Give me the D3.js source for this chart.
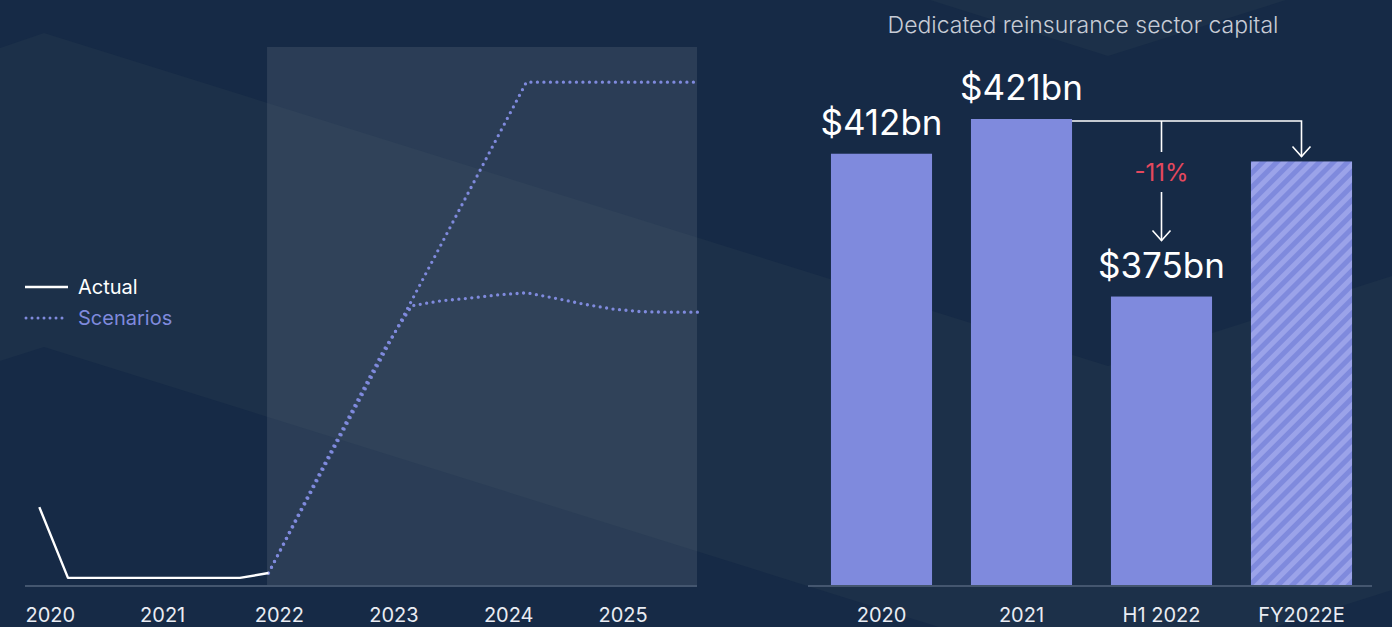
<!DOCTYPE html>
<html>
<head>
<meta charset="utf-8">
<script src="https://cdn.jsdelivr.net/npm/d3@7"></script>
<style>
  html, body { margin: 0; padding: 0; background: #162a46; overflow: hidden; }
  svg { display: block; font-family: Inter, "Open Sans", sans-serif; }
</style>
</head>
<body>
<div id="chart"></div>
<script>
// left panel: quarterly index, actual vs scenarios
var years = [2020, 2021, 2022, 2023, 2024, 2025];
var quarters = ["2020 Q1", "2020 Q2", "2020 Q3", "2020 Q4",
                "2021 Q1", "2021 Q2", "2021 Q3", "2021 Q4",
                "2022 Q1", "2022 Q2", "2022 Q3", "2022 Q4",
                "2023 Q1", "2023 Q2", "2023 Q3", "2023 Q4",
                "2024 Q1", "2024 Q2", "2024 Q3", "2024 Q4",
                "2025 Q1", "2025 Q2", "2025 Q3", "2025 Q4"];
var actual = [14.6, 1.5, 1.5, 1.5, 1.5, 1.5, 1.5, 1.5, 2.4];
var scenarioHigh = [null, null, null, null, null, null, null, null,
                    2.4, 12.5, 22.6, 32.7, 42.8, 52.9, 63.0, 73.1,
                    83.2, 93.3, 93.3, 93.3, 93.3, 93.3, 93.3, 93.3];
var scenarioLow = [null, null, null, null, null, null, null, null,
                   2.4, 12.8, 23.1, 33.3, 43.5, 51.9, 52.8, 53.3,
                   53.9, 54.3, 53.3, 52.2, 51.3, 50.8, 50.7, 50.7];
var projectionStart = "2022 Q1";

// right panel: dedicated reinsurance capital ($bn)
var barLabels = ["2020", "2021", "H1 2022", "FY2022E"];
var capital = [412, 421, 375, 410];
var isEstimate = [false, false, false, true];

var W = 1392, H = 627;
var barColor = "#7f8add";

var svg = d3.select("#chart")
  .append("svg")
    .attr("width", W)
    .attr("height", H);

// background chevron shapes
svg.append("rect").attr("width", W).attr("height", H).attr("fill", "#162a46");
svg.append("polygon")
  .attr("points", "0,48 44,33 1108,366 1392,276 1392,590 1108,680 44,347 0,361")
  .attr("fill", "#1c3049");
svg.append("polygon")
  .attr("points", "930,0 1108,56 1286,0")
  .attr("fill", "#1c3049");

// hatch for the estimate bar
var defs = svg.append("defs");
var pat = defs.append("pattern")
  .attr("id", "hatch")
  .attr("patternUnits", "userSpaceOnUse")
  .attr("width", 10)
  .attr("height", 10)
  .attr("patternTransform", "rotate(45)");
pat.append("rect").attr("width", 10).attr("height", 10).attr("fill", barColor);
pat.append("rect").attr("width", 5).attr("height", 10).attr("fill", "#9ba3e9");

// ---------- left chart ----------
var xYear = d3.scaleLinear()
  .domain([2020, 2026])
  .range([25, 25 + 6 * 114.6]);

function qx(q) {
  var yr = +q.slice(0, 4), qn = +q.slice(-1);
  return xYear(yr + (qn - 1) * 0.25 + 0.125);
}

var yIdx = d3.scaleLinear()
  .domain([0, 100])
  .range([586, 46]);

// shaded projection period
svg.append("rect")
  .attr("x", qx(projectionStart) - 1.5)
  .attr("y", 47)
  .attr("width", 697 - qx(projectionStart) + 1.5)
  .attr("height", 586 - 47)
  .attr("fill", "#ffffff")
  .attr("fill-opacity", 0.09);

svg.append("line")
  .attr("x1", 25).attr("x2", 697)
  .attr("y1", 586).attr("y2", 586)
  .attr("stroke", "#44566f")
  .attr("stroke-width", 2);

var xAxis = svg.append("g")
  .attr("transform", "translate(0,586)")
  .call(d3.axisBottom(xYear).tickValues(years).tickFormat(d3.format("d")).tickSize(0));
xAxis.select(".domain").remove();
xAxis.selectAll("text")
  .attr("y", 36)
  .attr("dy", null)
  .attr("text-anchor", "start")
  .attr("fill", "#e9ecf3")
  .style("font-size", "20px")
  .style("font-family", "Inter, sans-serif");

var line = d3.line()
  .defined(function(d) { return d.v != null; })
  .x(function(d) { return qx(d.q); })
  .y(function(d) { return yIdx(d.v); });

function series(vals) {
  return quarters.map(function(q, i) { return {q: q, v: vals[i] == undefined ? null : vals[i]}; });
}

[scenarioHigh, scenarioLow].forEach(function(s) {
  svg.append("path")
    .datum(series(s))
    .attr("d", line)
    .attr("fill", "none")
    .attr("stroke", barColor)
    .attr("stroke-width", 3.3)
    .attr("stroke-linecap", "round")
    .attr("stroke-dasharray", "0,6.5");
});

svg.append("path")
  .datum(series(actual))
  .attr("d", line)
  .attr("fill", "none")
  .attr("stroke", "#ffffff")
  .attr("stroke-width", 2.4)
  .attr("stroke-linejoin", "round");

// legend
svg.append("line").attr("x1", 25).attr("x2", 68).attr("y1", 287).attr("y2", 287)
  .attr("stroke", "#ffffff").attr("stroke-width", 2.4);
svg.append("text").attr("x", 78).attr("y", 294).text("Actual")
  .attr("fill", "#ffffff").style("font-size", "20px");
svg.append("line").attr("x1", 26).attr("x2", 68).attr("y1", 318).attr("y2", 318)
  .attr("stroke", barColor).attr("stroke-width", 3)
  .attr("stroke-linecap", "round").attr("stroke-dasharray", "0,6");
svg.append("text").attr("x", 78).attr("y", 325).text("Scenarios")
  .attr("fill", barColor).style("font-size", "20px");

// ---------- right chart ----------
var xBar = d3.scaleBand()
  .domain(barLabels)
  .range([811.5, 1371.5])
  .paddingInner(0.278)
  .paddingOuter(0.139);

var yBar = d3.scaleLinear()
  .domain([300, 421])
  .range([586, 119]);

svg.append("text")
  .attr("x", 1083).attr("y", 33)
  .attr("text-anchor", "middle")
  .attr("fill", "#c7ccd6")
  .style("font-size", "23px")
  .style("font-weight", 300)
  .text("Dedicated reinsurance sector capital");

svg.append("g")
  .selectAll("rect")
  .data(capital)
  .enter()
  .append("rect")
    .attr("x", function(d, i) { return xBar(barLabels[i]); })
    .attr("y", function(d) { return yBar(d); })
    .attr("width", xBar.bandwidth())
    .attr("height", function(d) { return 586 - yBar(d); })
    .attr("fill", function(d, i) { return isEstimate[i] ? "url(#hatch)" : barColor; });

svg.append("line")
  .attr("x1", 808).attr("x2", 1372)
  .attr("y1", 586).attr("y2", 586)
  .attr("stroke", "#44566f")
  .attr("stroke-width", 2);

var barAxis = svg.append("g")
  .attr("transform", "translate(0,586)")
  .call(d3.axisBottom(xBar).tickSize(0));
barAxis.select(".domain").remove();
barAxis.selectAll("text")
  .attr("y", 36)
  .attr("dy", null)
  .attr("fill", "#e9ecf3")
  .style("font-size", "20px")
  .style("font-family", "Inter, sans-serif");

// value labels (not for the estimate)
capital.forEach(function(v, i) {
  if (isEstimate[i]) return;
  svg.append("text")
    .attr("x", xBar(barLabels[i]) + xBar.bandwidth() / 2)
    .attr("y", yBar(v) - 19)
    .attr("text-anchor", "middle")
    .attr("fill", "#ffffff")
    .style("font-size", "35px")
    .text("$" + v + "bn");
});

// bracket arrows from 2021 to H1 2022 and FY2022E
var b21 = xBar("2021") + xBar.bandwidth();
var cH1 = xBar("H1 2022") + xBar.bandwidth() / 2;
var cFY = xBar("FY2022E") + xBar.bandwidth() / 2;
var yTop = yBar(capital[1]) + 2;
var tipFY = yBar(capital[3]) - 5;
var tipH1 = yBar(capital[2]) - 56;

var arrows = svg.append("g")
  .attr("fill", "none")
  .attr("stroke", "#ffffff")
  .attr("stroke-width", 1.6);
arrows.append("path")
  .attr("d", "M" + b21 + "," + yTop + "H" + cFY + "V" + tipFY);
arrows.append("path")
  .attr("d", "M" + (cFY - 9) + "," + (tipFY - 10) + "L" + cFY + "," + tipFY + "L" + (cFY + 9) + "," + (tipFY - 10));
arrows.append("path")
  .attr("d", "M" + cH1 + "," + yTop + "V" + (yTop + 31));
arrows.append("path")
  .attr("d", "M" + cH1 + "," + (yTop + 71) + "V" + tipH1);
arrows.append("path")
  .attr("d", "M" + (cH1 - 9) + "," + (tipH1 - 10) + "L" + cH1 + "," + tipH1 + "L" + (cH1 + 9) + "," + (tipH1 - 10));

svg.append("text")
  .attr("x", cH1).attr("y", yTop + 60)
  .attr("text-anchor", "middle")
  .attr("fill", "#e5485e")
  .style("font-size", "24px")
  .text(d3.format(".0%")(capital[2] / capital[1] - 1).replace("−", "-"));
</script>
</body>
</html>
